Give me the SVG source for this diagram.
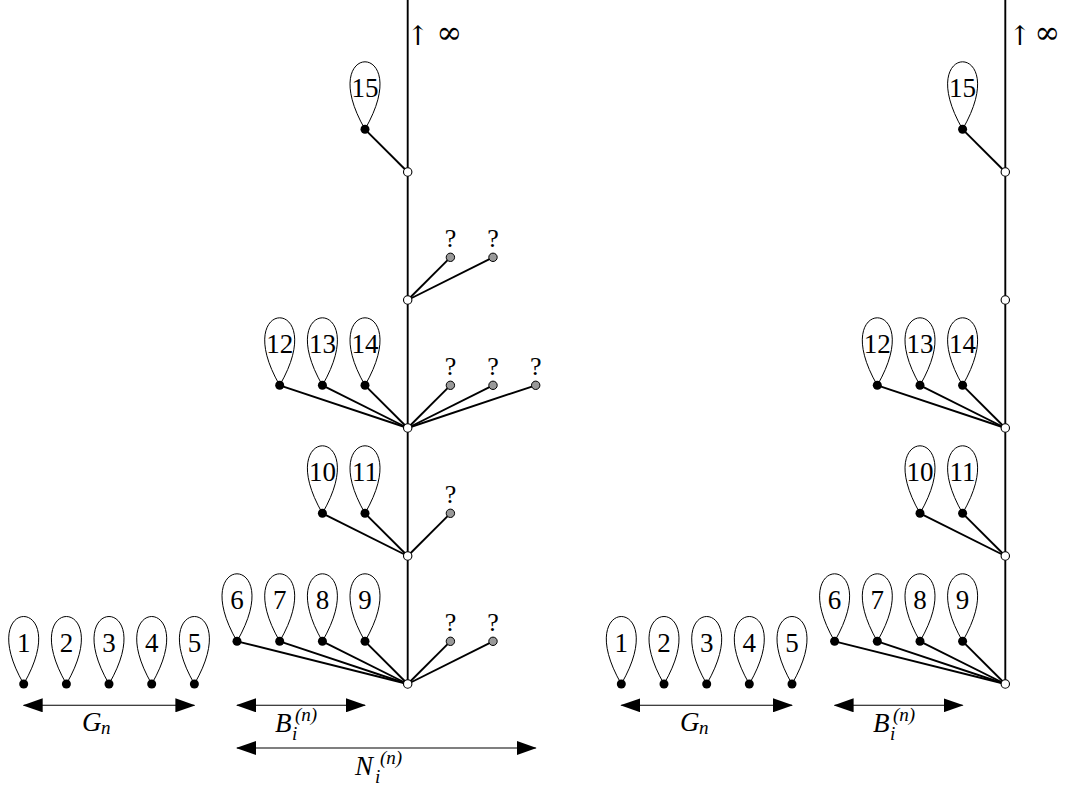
<svg xmlns="http://www.w3.org/2000/svg" width="1066" height="789" viewBox="0 0 1066 789">
<style>
.e{stroke:#000;stroke-width:1.9;fill:none}
.a{stroke:#000;stroke-width:1.1;fill:none;marker-start:url(#ah);marker-end:url(#ah)}
.lp{stroke:#000;stroke-width:1;fill:none}
.bd{fill:#000}
.wn{fill:#fff;stroke:#000;stroke-width:1.1}
.gn{fill:#999;stroke:#000;stroke-width:1}
.n{font-family:"Liberation Serif","DejaVu Serif",serif;font-size:27px;text-anchor:middle;fill:#000}
.q{font-family:"Liberation Serif","DejaVu Serif",serif;font-size:26px;text-anchor:middle;fill:#000}
.m{font-family:"Liberation Serif","DejaVu Serif",serif;font-style:italic;font-size:27px;fill:#000}
.s{font-family:"Liberation Serif","DejaVu Serif",serif;font-style:italic;font-size:19px;fill:#000}
.ar{font-family:"DejaVu Serif","Liberation Serif",serif;font-size:27px;text-anchor:middle;fill:#000}
.sy{font-family:"DejaVu Serif","Liberation Serif",serif;font-size:31px;text-anchor:middle;fill:#000}
</style>
<defs>
<path id="lp" class="lp" d="M0,0 C52,-90 -52,-90 0,0"/>
<marker id="ah" viewBox="0 0 20 14" refX="19" refY="7" markerWidth="20" markerHeight="14" markerUnits="userSpaceOnUse" orient="auto-start-reverse">
<path d="M0,0 L20,7 L0,14 Z" fill="#000"/>
</marker>
</defs>
<rect width="1066" height="789" fill="#fff"/>

<g id="connectors">
<line class="e" x1="407.7" y1="0" x2="407.7" y2="684"/>
<line class="e" x1="407.7" y1="684" x2="237.0" y2="641.3"/>
<line class="e" x1="407.7" y1="684" x2="279.7" y2="641.3"/>
<line class="e" x1="407.7" y1="684" x2="322.4" y2="641.3"/>
<line class="e" x1="407.7" y1="684" x2="365.0" y2="641.3"/>
<line class="e" x1="407.7" y1="684" x2="450.4" y2="641.3"/>
<line class="e" x1="407.7" y1="684" x2="493.0" y2="641.3"/>
<line class="e" x1="407.7" y1="556" x2="322.4" y2="513.3"/>
<line class="e" x1="407.7" y1="556" x2="365.0" y2="513.3"/>
<line class="e" x1="407.7" y1="556" x2="450.4" y2="513.3"/>
<line class="e" x1="407.7" y1="428" x2="279.7" y2="385.3"/>
<line class="e" x1="407.7" y1="428" x2="322.4" y2="385.3"/>
<line class="e" x1="407.7" y1="428" x2="365.0" y2="385.3"/>
<line class="e" x1="407.7" y1="428" x2="450.4" y2="385.3"/>
<line class="e" x1="407.7" y1="428" x2="493.0" y2="385.3"/>
<line class="e" x1="407.7" y1="428" x2="535.7" y2="385.3"/>
<line class="e" x1="407.7" y1="300" x2="450.4" y2="257.3"/>
<line class="e" x1="407.7" y1="300" x2="493.0" y2="257.3"/>
<line class="e" x1="407.7" y1="172" x2="365.0" y2="129.3"/>

<line class="e" x1="1005.3" y1="0" x2="1005.3" y2="684"/>
<line class="e" x1="1005.3" y1="684" x2="834.6" y2="641.3"/>
<line class="e" x1="1005.3" y1="684" x2="877.3" y2="641.3"/>
<line class="e" x1="1005.3" y1="684" x2="920.0" y2="641.3"/>
<line class="e" x1="1005.3" y1="684" x2="962.6" y2="641.3"/>
<line class="e" x1="1005.3" y1="556" x2="920.0" y2="513.3"/>
<line class="e" x1="1005.3" y1="556" x2="962.6" y2="513.3"/>
<line class="e" x1="1005.3" y1="428" x2="877.3" y2="385.3"/>
<line class="e" x1="1005.3" y1="428" x2="920.0" y2="385.3"/>
<line class="e" x1="1005.3" y1="428" x2="962.6" y2="385.3"/>
<line class="e" x1="1005.3" y1="172" x2="962.6" y2="129.3"/>

<line class="a" x1="23.7" y1="705.3" x2="194.4" y2="705.3"/>
<line class="a" x1="237.0" y1="705.3" x2="365.0" y2="705.3"/>
<line class="a" x1="237.0" y1="748" x2="535.7" y2="748"/>
<line class="a" x1="621.3" y1="705.3" x2="792.0" y2="705.3"/>
<line class="a" x1="834.6" y1="705.3" x2="962.6" y2="705.3"/>
</g>

<g id="L1"><use href="#lp" x="23.7" y="684"/><circle class="bd" cx="23.7" cy="684" r="4.5"/><text class="n" x="23.7" y="652">1</text></g>
<g id="L2"><use href="#lp" x="66.4" y="684"/><circle class="bd" cx="66.4" cy="684" r="4.5"/><text class="n" x="66.4" y="652">2</text></g>
<g id="L3"><use href="#lp" x="109.0" y="684"/><circle class="bd" cx="109.0" cy="684" r="4.5"/><text class="n" x="109.0" y="652">3</text></g>
<g id="L4"><use href="#lp" x="151.7" y="684"/><circle class="bd" cx="151.7" cy="684" r="4.5"/><text class="n" x="151.7" y="652">4</text></g>
<g id="L5"><use href="#lp" x="194.4" y="684"/><circle class="bd" cx="194.4" cy="684" r="4.5"/><text class="n" x="194.4" y="652">5</text></g>

<g id="L6"><use href="#lp" x="237.0" y="641.3"/><circle class="bd" cx="237.0" cy="641.3" r="4.5"/><text class="n" x="237.0" y="609.3">6</text></g>
<g id="L7"><use href="#lp" x="279.7" y="641.3"/><circle class="bd" cx="279.7" cy="641.3" r="4.5"/><text class="n" x="279.7" y="609.3">7</text></g>
<g id="L8"><use href="#lp" x="322.4" y="641.3"/><circle class="bd" cx="322.4" cy="641.3" r="4.5"/><text class="n" x="322.4" y="609.3">8</text></g>
<g id="L9"><use href="#lp" x="365.0" y="641.3"/><circle class="bd" cx="365.0" cy="641.3" r="4.5"/><text class="n" x="365.0" y="609.3">9</text></g>
<g id="L10"><use href="#lp" x="322.4" y="513.3"/><circle class="bd" cx="322.4" cy="513.3" r="4.5"/><text class="n" x="322.4" y="481.3">10</text></g>
<g id="L11"><use href="#lp" x="365.0" y="513.3"/><circle class="bd" cx="365.0" cy="513.3" r="4.5"/><text class="n" x="365.0" y="481.3">11</text></g>
<g id="L12"><use href="#lp" x="279.7" y="385.3"/><circle class="bd" cx="279.7" cy="385.3" r="4.5"/><text class="n" x="279.7" y="353.3">12</text></g>
<g id="L13"><use href="#lp" x="322.4" y="385.3"/><circle class="bd" cx="322.4" cy="385.3" r="4.5"/><text class="n" x="322.4" y="353.3">13</text></g>
<g id="L14"><use href="#lp" x="365.0" y="385.3"/><circle class="bd" cx="365.0" cy="385.3" r="4.5"/><text class="n" x="365.0" y="353.3">14</text></g>
<g id="L15"><use href="#lp" x="365.0" y="129.3"/><circle class="bd" cx="365.0" cy="129.3" r="4.5"/><text class="n" x="365.0" y="97.3">15</text></g>

<g id="Q1"><circle class="gn" cx="450.4" cy="641.3" r="4.2"/><text class="q" x="450.4" y="630.5">?</text></g>
<g id="Q2"><circle class="gn" cx="493.0" cy="641.3" r="4.2"/><text class="q" x="493.0" y="630.5">?</text></g>
<g id="Q3"><circle class="gn" cx="450.4" cy="513.3" r="4.2"/><text class="q" x="450.4" y="502.5">?</text></g>
<g id="Q4"><circle class="gn" cx="450.4" cy="385.3" r="4.2"/><text class="q" x="450.4" y="374.5">?</text></g>
<g id="Q5"><circle class="gn" cx="493.0" cy="385.3" r="4.2"/><text class="q" x="493.0" y="374.5">?</text></g>
<g id="Q6"><circle class="gn" cx="535.7" cy="385.3" r="4.2"/><text class="q" x="535.7" y="374.5">?</text></g>
<g id="Q7"><circle class="gn" cx="450.4" cy="257.3" r="4.2"/><text class="q" x="450.4" y="246.5">?</text></g>
<g id="Q8"><circle class="gn" cx="493.0" cy="257.3" r="4.2"/><text class="q" x="493.0" y="246.5">?</text></g>

<g id="W0"><circle class="wn" cx="407.7" cy="684" r="4.2"/></g>
<g id="W1"><circle class="wn" cx="407.7" cy="556" r="4.2"/></g>
<g id="W2"><circle class="wn" cx="407.7" cy="428" r="4.2"/></g>
<g id="W3"><circle class="wn" cx="407.7" cy="300" r="4.2"/></g>
<g id="W4"><circle class="wn" cx="407.7" cy="172" r="4.2"/></g>
<g id="INF"><text class="ar" x="418" y="45">↑</text><text class="sy" x="449.5" y="43">∞</text></g>

<g id="R1"><use href="#lp" x="621.3" y="684"/><circle class="bd" cx="621.3" cy="684" r="4.5"/><text class="n" x="621.3" y="652">1</text></g>
<g id="R2"><use href="#lp" x="664.0" y="684"/><circle class="bd" cx="664.0" cy="684" r="4.5"/><text class="n" x="664.0" y="652">2</text></g>
<g id="R3"><use href="#lp" x="706.7" y="684"/><circle class="bd" cx="706.7" cy="684" r="4.5"/><text class="n" x="706.7" y="652">3</text></g>
<g id="R4"><use href="#lp" x="749.3" y="684"/><circle class="bd" cx="749.3" cy="684" r="4.5"/><text class="n" x="749.3" y="652">4</text></g>
<g id="R5"><use href="#lp" x="792.0" y="684"/><circle class="bd" cx="792.0" cy="684" r="4.5"/><text class="n" x="792.0" y="652">5</text></g>

<g id="R6"><use href="#lp" x="834.6" y="641.3"/><circle class="bd" cx="834.6" cy="641.3" r="4.5"/><text class="n" x="834.6" y="609.3">6</text></g>
<g id="R7"><use href="#lp" x="877.3" y="641.3"/><circle class="bd" cx="877.3" cy="641.3" r="4.5"/><text class="n" x="877.3" y="609.3">7</text></g>
<g id="R8"><use href="#lp" x="920.0" y="641.3"/><circle class="bd" cx="920.0" cy="641.3" r="4.5"/><text class="n" x="920.0" y="609.3">8</text></g>
<g id="R9"><use href="#lp" x="962.6" y="641.3"/><circle class="bd" cx="962.6" cy="641.3" r="4.5"/><text class="n" x="962.6" y="609.3">9</text></g>
<g id="R10"><use href="#lp" x="920.0" y="513.3"/><circle class="bd" cx="920.0" cy="513.3" r="4.5"/><text class="n" x="920.0" y="481.3">10</text></g>
<g id="R11"><use href="#lp" x="962.6" y="513.3"/><circle class="bd" cx="962.6" cy="513.3" r="4.5"/><text class="n" x="962.6" y="481.3">11</text></g>
<g id="R12"><use href="#lp" x="877.3" y="385.3"/><circle class="bd" cx="877.3" cy="385.3" r="4.5"/><text class="n" x="877.3" y="353.3">12</text></g>
<g id="R13"><use href="#lp" x="920.0" y="385.3"/><circle class="bd" cx="920.0" cy="385.3" r="4.5"/><text class="n" x="920.0" y="353.3">13</text></g>
<g id="R14"><use href="#lp" x="962.6" y="385.3"/><circle class="bd" cx="962.6" cy="385.3" r="4.5"/><text class="n" x="962.6" y="353.3">14</text></g>
<g id="R15"><use href="#lp" x="962.6" y="129.3"/><circle class="bd" cx="962.6" cy="129.3" r="4.5"/><text class="n" x="962.6" y="97.3">15</text></g>

<g id="RW0"><circle class="wn" cx="1005.3" cy="684" r="4.2"/></g>
<g id="RW1"><circle class="wn" cx="1005.3" cy="556" r="4.2"/></g>
<g id="RW2"><circle class="wn" cx="1005.3" cy="428" r="4.2"/></g>
<g id="RW3"><circle class="wn" cx="1005.3" cy="300" r="4.2"/></g>
<g id="RW4"><circle class="wn" cx="1005.3" cy="172" r="4.2"/></g>
<g id="RINF"><text class="ar" x="1020" y="45">↑</text><text class="sy" x="1047.5" y="43">∞</text></g>

<g id="lblG"><text class="m" x="82" y="731">G</text><text class="s" x="101" y="734">n</text></g>
<g id="lblB"><text class="m" x="275" y="732">B</text><text class="s" x="292" y="740">i</text><text class="s" x="295" y="721">(n)</text></g>
<g id="lblN"><text class="m" x="355" y="775">N</text><text class="s" x="375" y="783">i</text><text class="s" x="380" y="764">(n)</text></g>
<g id="rlblG"><text class="m" x="680" y="731">G</text><text class="s" x="699" y="734">n</text></g>
<g id="rlblB"><text class="m" x="873" y="732">B</text><text class="s" x="890" y="740">i</text><text class="s" x="893" y="721">(n)</text></g>
</svg>
